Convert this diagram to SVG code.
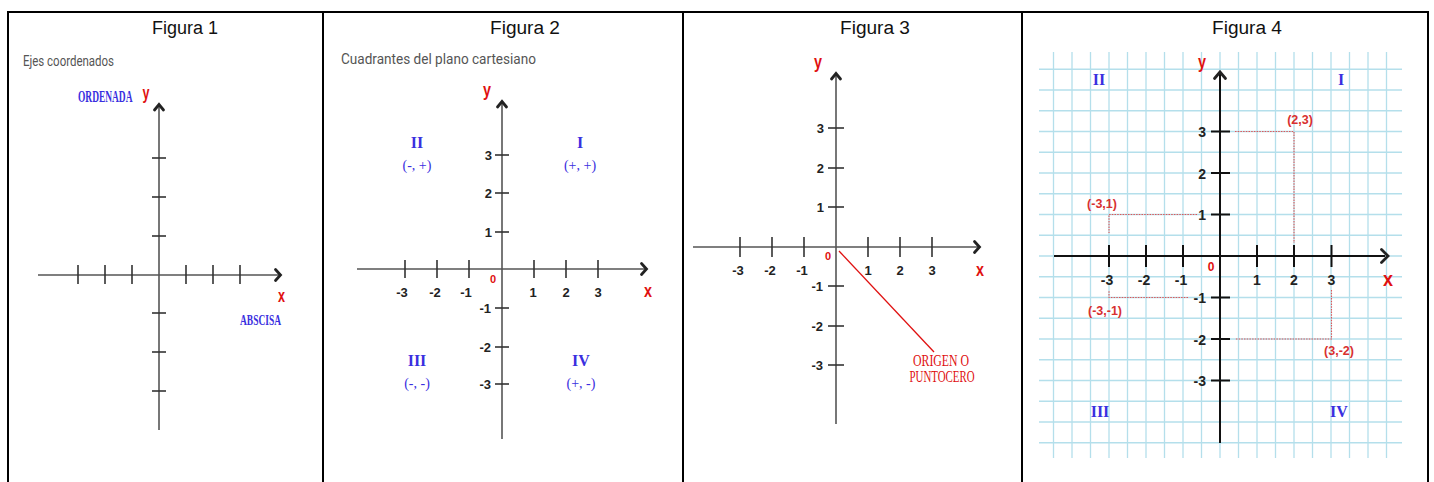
<svg xmlns="http://www.w3.org/2000/svg" width="1434" height="482" viewBox="0 0 1434 482">
<style>
.title{font-family:"Liberation Sans",Arial,sans-serif;font-size:18px;fill:#111;text-anchor:middle}
.sub{font-family:Roboto,"Liberation Sans",sans-serif;font-size:15px;fill:#555}
.ax{stroke:#555;stroke-width:1.6;fill:none}
.ax4{stroke:#111;stroke-width:2;fill:none}
.chev{stroke:#222;stroke-width:2.8;fill:none;stroke-linecap:round;stroke-linejoin:miter}
.tk{stroke:#333;stroke-width:1.6}
.tk4{stroke:#111;stroke-width:2}
.red{font-family:"Liberation Sans",Arial,sans-serif;font-weight:bold;fill:#e01010}
.var{font-size:19px}
.num{font-family:"Liberation Sans",Arial,sans-serif;font-weight:bold;font-size:13px;fill:#222}
.num4{font-family:"Liberation Sans",Arial,sans-serif;font-weight:bold;font-size:14px;fill:#222}
.blue{font-family:"Liberation Serif","Times New Roman",serif;font-weight:bold;fill:#3a2fe0}
.bluen{font-family:"Liberation Serif","Times New Roman",serif;fill:#3a2fe0;font-size:14px;text-anchor:middle}
.quad{font-size:16px;text-anchor:middle}
.redserif{font-family:"Liberation Serif","Times New Roman",serif;fill:#e01010;font-size:16px;text-anchor:middle}
.grid{stroke:#b4dfeb;stroke-width:1.3}
.dot{stroke:#e05555;stroke-width:1.1;stroke-dasharray:1.5 1.2;fill:none}
.pt{font-family:"Liberation Sans",Arial,sans-serif;font-weight:bold;font-size:12.5px;fill:#d83030;text-anchor:middle}
.mid{text-anchor:middle}
.end{text-anchor:end}
</style>

<g id="table">
<line x1="7" y1="12" x2="1429" y2="12" stroke="#000" stroke-width="2"/>
<line x1="8" y1="11" x2="8" y2="482" stroke="#000" stroke-width="2"/>
<line x1="323" y1="11" x2="323" y2="482" stroke="#000" stroke-width="2"/>
<line x1="683" y1="11" x2="683" y2="482" stroke="#000" stroke-width="2"/>
<line x1="1022" y1="11" x2="1022" y2="482" stroke="#000" stroke-width="2"/>
<line x1="1428" y1="11" x2="1428" y2="482" stroke="#000" stroke-width="2"/>
<text class="title" x="185" y="34" textLength="66" lengthAdjust="spacingAndGlyphs">Figura 1</text>
<text class="title" x="525" y="34" textLength="70" lengthAdjust="spacingAndGlyphs">Figura 2</text>
<text class="title" x="875" y="34" textLength="70" lengthAdjust="spacingAndGlyphs">Figura 3</text>
<text class="title" x="1247" y="34" textLength="70" lengthAdjust="spacingAndGlyphs">Figura 4</text>
</g>

<!-- Figure 1 -->
<g id="fig1">
<text class="sub" x="23" y="66" textLength="91" lengthAdjust="spacingAndGlyphs">Ejes coordenados</text>
<line class="ax" x1="159" y1="105" x2="159" y2="430"/>
<polyline class="chev" points="154.5,110 159,104.5 163.5,110"/>
<line class="ax" x1="38" y1="275" x2="279" y2="275"/>
<polyline class="chev" points="275.5,269.5 280.5,275 275.5,280.5"/>
<g class="tk">
<line x1="78" y1="265" x2="78" y2="284"/><line x1="105" y1="265" x2="105" y2="284"/><line x1="132" y1="265" x2="132" y2="284"/>
<line x1="186" y1="265" x2="186" y2="284"/><line x1="213" y1="265" x2="213" y2="284"/><line x1="240" y1="265" x2="240" y2="284"/>
<line x1="152" y1="158" x2="166" y2="158"/><line x1="152" y1="197" x2="166" y2="197"/><line x1="152" y1="236" x2="166" y2="236"/>
<line x1="152" y1="313" x2="166" y2="313"/><line x1="152" y1="352" x2="166" y2="352"/><line x1="152" y1="391" x2="166" y2="391"/>
</g>
<text class="blue" font-size="16" transform="translate(78,102) scale(0.59,1)">ORDENADA</text>
<text class="red var" x="142.5" y="99" textLength="7" lengthAdjust="spacingAndGlyphs">y</text>
<text class="red var" x="278" y="302" textLength="7" lengthAdjust="spacingAndGlyphs">x</text>
<text class="blue" x="240" y="325" font-size="15" textLength="41" lengthAdjust="spacingAndGlyphs">ABSCISA</text>
</g>

<!-- Figure 2 -->
<g id="fig2">
<text class="sub" x="341" y="64" textLength="195" lengthAdjust="spacingAndGlyphs">Cuadrantes del plano cartesiano</text>
<line class="ax" x1="502" y1="102" x2="502" y2="439"/>
<polyline class="chev" points="497.5,107 502,101.5 506.5,107"/>
<line class="ax" x1="357" y1="269" x2="645" y2="269"/>
<polyline class="chev" points="641.5,263.5 646.5,269 641.5,274.5"/>
<g class="tk">
<line x1="405" y1="260" x2="405" y2="278"/><line x1="437" y1="260" x2="437" y2="278"/><line x1="469" y1="260" x2="469" y2="278"/>
<line x1="534" y1="260" x2="534" y2="278"/><line x1="566" y1="260" x2="566" y2="278"/><line x1="598" y1="260" x2="598" y2="278"/>
<line x1="495" y1="155" x2="509" y2="155"/><line x1="495" y1="193" x2="509" y2="193"/><line x1="495" y1="232" x2="509" y2="232"/>
<line x1="495" y1="308" x2="509" y2="308"/><line x1="495" y1="347" x2="509" y2="347"/><line x1="495" y1="384" x2="509" y2="384"/>
</g>
<g class="num">
<text class="end" x="492" y="160">3</text><text class="end" x="492" y="198">2</text><text class="end" x="492" y="237">1</text>
<text class="end" x="491" y="313">-1</text><text class="end" x="491" y="352">-2</text><text class="end" x="491" y="389">-3</text>
<text class="mid" x="402" y="297">-3</text><text class="mid" x="435" y="297">-2</text><text class="mid" x="466" y="297">-1</text>
<text class="mid" x="533" y="297">1</text><text class="mid" x="566" y="297">2</text><text class="mid" x="598" y="297">3</text>
</g>
<text class="red" x="493" y="283" font-size="11" text-anchor="middle">0</text>
<text class="red var" x="483" y="96" textLength="8" lengthAdjust="spacingAndGlyphs">y</text>
<text class="red var" x="644" y="297" textLength="8" lengthAdjust="spacingAndGlyphs">x</text>
<text class="blue quad" x="417" y="148">II</text>
<text class="bluen" x="417" y="170">(-, +)</text>
<text class="blue quad" x="580" y="148">I</text>
<text class="bluen" x="580" y="170">(+, +)</text>
<text class="blue quad" x="417" y="366">III</text>
<text class="bluen" x="417" y="388">(-, -)</text>
<text class="blue quad" x="581" y="366">IV</text>
<text class="bluen" x="581" y="388">(+, -)</text>
</g>

<!-- Figure 3 -->
<g id="fig3">
<line class="ax" x1="836" y1="74" x2="836" y2="424"/>
<polyline class="chev" points="831.5,79 836,73.5 840.5,79"/>
<line class="ax" x1="693" y1="247" x2="978" y2="247"/>
<polyline class="chev" points="974.5,241.5 979.5,247 974.5,252.5"/>
<g class="tk">
<line x1="740" y1="237" x2="740" y2="257"/><line x1="772" y1="237" x2="772" y2="257"/><line x1="804" y1="237" x2="804" y2="257"/>
<line x1="868" y1="237" x2="868" y2="257"/><line x1="900" y1="237" x2="900" y2="257"/><line x1="932" y1="237" x2="932" y2="257"/>
<line x1="828" y1="128" x2="844" y2="128"/><line x1="828" y1="168" x2="844" y2="168"/><line x1="828" y1="207" x2="844" y2="207"/>
<line x1="828" y1="286" x2="844" y2="286"/><line x1="828" y1="326" x2="844" y2="326"/><line x1="828" y1="365" x2="844" y2="365"/>
</g>
<g class="num">
<text class="end" x="824" y="133">3</text><text class="end" x="824" y="173">2</text><text class="end" x="824" y="212">1</text>
<text class="end" x="823" y="291">-1</text><text class="end" x="823" y="331">-2</text><text class="end" x="823" y="370">-3</text>
<text class="mid" x="738" y="275">-3</text><text class="mid" x="770" y="275">-2</text><text class="mid" x="802" y="275">-1</text>
<text class="mid" x="868" y="275">1</text><text class="mid" x="900" y="275">2</text><text class="mid" x="932" y="275">3</text>
</g>
<text class="red" x="828" y="260" font-size="11" text-anchor="middle">0</text>
<text class="red var" x="814" y="68" textLength="8" lengthAdjust="spacingAndGlyphs">y</text>
<text class="red var" x="976" y="276" textLength="8" lengthAdjust="spacingAndGlyphs">x</text>
<line x1="839" y1="251" x2="934" y2="352" stroke="#e01010" stroke-width="1.3"/>
<text class="redserif" x="941" y="366" textLength="56" lengthAdjust="spacingAndGlyphs">ORIGEN  O</text>
<text class="redserif" x="942" y="382" textLength="65" lengthAdjust="spacingAndGlyphs">PUNTOCERO</text>
</g>

<!-- Figure 4 -->
<g id="fig4">
<g id="grid" class="grid">
<line x1="1053.5" y1="52" x2="1053.5" y2="458"/><line x1="1072" y1="52" x2="1072" y2="458"/><line x1="1090.5" y1="52" x2="1090.5" y2="458"/>
<line x1="1109" y1="52" x2="1109" y2="458"/><line x1="1127.5" y1="52" x2="1127.5" y2="458"/><line x1="1146" y1="52" x2="1146" y2="458"/>
<line x1="1164.5" y1="52" x2="1164.5" y2="458"/><line x1="1183" y1="52" x2="1183" y2="458"/><line x1="1201.5" y1="52" x2="1201.5" y2="458"/>
<line x1="1220" y1="52" x2="1220" y2="458"/><line x1="1238.5" y1="52" x2="1238.5" y2="458"/><line x1="1257" y1="52" x2="1257" y2="458"/>
<line x1="1275.5" y1="52" x2="1275.5" y2="458"/><line x1="1294" y1="52" x2="1294" y2="458"/><line x1="1312.5" y1="52" x2="1312.5" y2="458"/>
<line x1="1331" y1="52" x2="1331" y2="458"/><line x1="1349.5" y1="52" x2="1349.5" y2="458"/><line x1="1368" y1="52" x2="1368" y2="458"/>
<line x1="1386.5" y1="52" x2="1386.5" y2="458"/>
<line x1="1039" y1="69.25" x2="1402" y2="69.25"/><line x1="1039" y1="90" x2="1402" y2="90"/><line x1="1039" y1="110.75" x2="1402" y2="110.75"/>
<line x1="1039" y1="131.5" x2="1402" y2="131.5"/><line x1="1039" y1="152.25" x2="1402" y2="152.25"/><line x1="1039" y1="173" x2="1402" y2="173"/>
<line x1="1039" y1="193.75" x2="1402" y2="193.75"/><line x1="1039" y1="214.5" x2="1402" y2="214.5"/><line x1="1039" y1="235.25" x2="1402" y2="235.25"/>
<line x1="1039" y1="256" x2="1402" y2="256"/><line x1="1039" y1="276.75" x2="1402" y2="276.75"/><line x1="1039" y1="297.5" x2="1402" y2="297.5"/>
<line x1="1039" y1="318.25" x2="1402" y2="318.25"/><line x1="1039" y1="339" x2="1402" y2="339"/><line x1="1039" y1="359.75" x2="1402" y2="359.75"/>
<line x1="1039" y1="380.5" x2="1402" y2="380.5"/><line x1="1039" y1="401.25" x2="1402" y2="401.25"/><line x1="1039" y1="422" x2="1402" y2="422"/>
<line x1="1039" y1="442.75" x2="1402" y2="442.75"/>
</g>
<g id="dotted" class="dot">
<polyline points="1235,131.5 1294,131.5 1294,243"/>
<polyline points="1197,214.5 1109,214.5 1109,233"/>
<polyline points="1188,297.5 1109,297.5 1109,290"/>
<polyline points="1331.5,290 1331.5,339 1235,339"/>
</g>
<line class="ax4" x1="1220" y1="73" x2="1220" y2="443"/>
<polyline class="chev" points="1214.5,78.5 1220,72 1225.5,78.5" stroke="#111" stroke-width="3.2"/>
<line class="ax4" x1="1054" y1="256" x2="1385" y2="256"/>
<polyline class="chev" points="1381.5,249.5 1388,256 1381.5,262.5" stroke="#111" stroke-width="3.2"/>
<g class="tk4">
<line x1="1109" y1="245" x2="1109" y2="267"/><line x1="1146" y1="245" x2="1146" y2="267"/><line x1="1183" y1="245" x2="1183" y2="267"/>
<line x1="1257" y1="245" x2="1257" y2="267"/><line x1="1294" y1="245" x2="1294" y2="267"/><line x1="1331.5" y1="245" x2="1331.5" y2="267"/>
<line x1="1211" y1="131.5" x2="1230" y2="131.5"/><line x1="1211" y1="173" x2="1230" y2="173"/><line x1="1211" y1="214.5" x2="1230" y2="214.5"/>
<line x1="1211" y1="297.5" x2="1230" y2="297.5"/><line x1="1211" y1="339" x2="1230" y2="339"/><line x1="1211" y1="380.5" x2="1230" y2="380.5"/>
</g>
<g class="num4">
<text class="end" x="1206" y="137">3</text><text class="end" x="1206" y="178.5">2</text><text class="end" x="1206" y="220">1</text>
<text class="end" x="1206" y="303">-1</text><text class="end" x="1206" y="344.5">-2</text><text class="end" x="1206" y="386">-3</text>
<text class="mid" x="1107" y="285">-3</text><text class="mid" x="1144" y="285">-2</text><text class="mid" x="1181" y="285">-1</text>
<text class="mid" x="1257" y="285">1</text><text class="mid" x="1294" y="285">2</text><text class="mid" x="1331.5" y="285">3</text>
</g>
<text class="red" x="1211" y="271" font-size="12" text-anchor="middle">0</text>
<text class="red var" x="1198" y="68" textLength="8" lengthAdjust="spacingAndGlyphs">y</text>
<text class="red" x="1383" y="286" font-size="20" textLength="10" lengthAdjust="spacingAndGlyphs">x</text>
<text class="blue quad" x="1099" y="85">II</text>
<text class="blue quad" x="1341" y="85">I</text>
<text class="blue quad" x="1100" y="417">III</text>
<text class="blue quad" x="1339" y="417">IV</text>
<text class="pt" x="1300" y="124">(2,3)</text>
<text class="pt" x="1102" y="208">(-3,1)</text>
<text class="pt" x="1105" y="315">(-3,-1)</text>
<text class="pt" x="1339" y="355">(3,-2)</text>
</g>
</svg>
